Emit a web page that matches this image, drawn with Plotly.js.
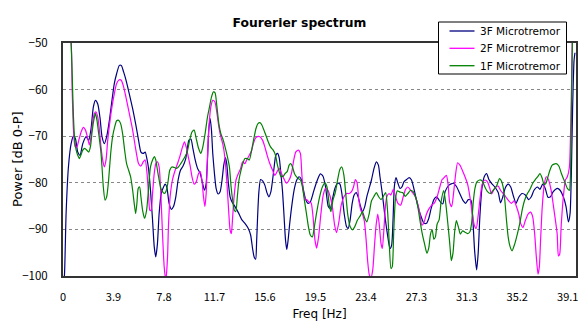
<!DOCTYPE html>
<html>
<head>
<meta charset="utf-8">
<script src="https://cdn.plot.ly/plotly-3.0.1.min.js"></script>
<style>html,body{margin:0;padding:0;background:#fff;}#chart{width:578px;height:322px;}</style>
</head>
<body>
<div id="chart"></div>
<script>
// ---- data (frequency in Hz, power in dB 0-P) ----
const seriesNames = ["3F Microtremor", "2F Microtremor", "1F Microtremor"];

const f3F = [0,0.12,0.24,0.42,0.63,0.81,0.96,1.14,1.32,1.53,1.79,1.99,2.17,2.35,2.51,2.69,2.87,3.02,3.2,3.38,3.59,3.79,3.97,4.15,4.36,4.51,4.69,4.87,5.13,5.39,5.64,5.85,6.03,6.21,6.36,6.49,6.62,6.77,6.93,7.06,7.18,7.31,7.44,7.6,7.78,7.9,8.03,8.21,8.39,8.55,8.73,8.91,9.09,9.29,9.5,9.74,9.9,10.05,10.23,10.41,10.62,10.8,10.95,11.08,11.18,11.28,11.39,11.49,11.59,11.72,11.85,12.0,12.16,12.31,12.44,12.57,12.67,12.8,12.93,13.08,13.31,13.57,13.83,14.08,14.34,14.52,14.67,14.8,14.91,14.98,15.06,15.16,15.29,15.45,15.62,15.78,15.93,16.09,16.22,16.34,16.47,16.6,16.73,16.86,16.99,17.11,17.22,17.32,17.42,17.55,17.73,17.91,18.09,18.27,18.45,18.6,18.78,18.96,19.14,19.35,19.5,19.7,19.91,20.12,20.32,20.53,20.68,20.86,21.04,21.25,21.43,21.58,21.76,21.94,22.07,22.22,22.38,22.53,22.69,22.84,23.0,23.17,23.35,23.51,23.69,23.87,24.07,24.25,24.41,24.53,24.71,24.89,25.1,25.3,25.43,25.54,25.64,25.77,25.92,26.08,26.23,26.38,26.59,26.79,26.97,27.15,27.33,27.51,27.72,27.92,28.13,28.31,28.49,28.7,28.9,29.08,29.26,29.4,29.57,29.87,30.21,30.47,30.72,30.98,31.16,31.36,31.57,31.72,31.85,32.01,32.13,32.26,32.42,32.6,32.78,32.96,33.16,33.42,33.68,33.86,34.04,34.24,34.45,34.65,34.86,35.06,35.27,35.53,35.78,36.04,36.24,36.45,36.71,36.91,37.12,37.32,37.53,37.73,37.94,38.26,38.47,38.72,38.93,39.11,39.24,39.34,39.44,39.55,39.62];
const p3F = [-104,-99.4,-86.6,-76.6,-71.6,-70.0,-70.5,-73.4,-74.1,-71.6,-70.1,-70.9,-68.4,-63.7,-62.3,-63.1,-66.2,-70.1,-71.6,-70.1,-66.6,-62.3,-58.7,-56.6,-54.8,-54.8,-56.2,-57.9,-60.9,-64.1,-67.6,-70.9,-73.4,-73.7,-73.4,-74.8,-76.9,-81.6,-88.0,-93.7,-95.9,-93.0,-86.6,-82.3,-80.9,-80.3,-80.9,-84.4,-85.7,-85.1,-83.0,-79.4,-77.3,-76.4,-74.8,-70.9,-70.6,-72.6,-75.1,-76.9,-78.0,-80.1,-81.6,-80.1,-75.1,-68.7,-66.2,-68.7,-73.7,-78.0,-81.2,-82.4,-81.9,-79.4,-76.2,-74.6,-75.9,-80.1,-83.0,-84.1,-85.1,-86.4,-87.9,-88.7,-89.8,-91.2,-94.1,-96.0,-96.4,-92.9,-87.3,-81.9,-79.3,-79.6,-80.5,-82.1,-83.0,-81.9,-79.4,-76.6,-74.1,-73.7,-74.6,-78.0,-81.9,-87.3,-92.3,-94.3,-92.3,-88.6,-84.4,-81.2,-79.4,-78.7,-79.3,-81.4,-83.6,-84.4,-84.1,-82.3,-80.9,-79.3,-78.1,-78.6,-80.9,-85.1,-85.5,-83.4,-81.2,-80.1,-80.3,-82.3,-86.6,-89.4,-89.8,-88.0,-84.4,-82.6,-82.1,-83.0,-84.8,-86.2,-85.1,-83.0,-81.2,-79.4,-76.9,-75.5,-76.2,-78.7,-82.3,-86.6,-90.9,-94.1,-93.4,-88.0,-80.9,-78.9,-80.1,-81.2,-80.9,-79.8,-79.3,-78.9,-79.4,-81.2,-83.4,-85.5,-87.3,-88.6,-88.7,-87.6,-85.5,-83.6,-83.0,-83.6,-84.3,-84.5,-81.9,-80.5,-80.1,-80.9,-82.4,-83.9,-84.4,-83.6,-83.7,-88.0,-94.4,-98.7,-95.1,-87.3,-81.2,-78.7,-78.0,-79.3,-80.1,-80.9,-82.1,-84.3,-83.0,-81.0,-80.3,-80.9,-82.9,-84.4,-83.1,-82.3,-82.6,-83.6,-83.0,-81.6,-80.9,-81.4,-80.3,-81.2,-83.1,-83.0,-81.9,-81.2,-81.6,-83.0,-85.1,-88.4,-86.6,-78.0,-63.7,-53.7,-52.1];

const f2F = [0,0.62,0.71,0.81,0.94,1.07,1.22,1.4,1.58,1.74,1.92,2.04,2.17,2.3,2.43,2.56,2.69,2.82,2.94,3.07,3.2,3.33,3.46,3.64,3.79,3.97,4.15,4.36,4.51,4.69,4.87,5.13,5.39,5.64,5.85,6.03,6.21,6.36,6.49,6.62,6.72,6.82,6.93,7.06,7.18,7.31,7.44,7.57,7.7,7.83,7.96,8.09,8.16,8.29,8.47,8.68,8.86,9.04,9.25,9.4,9.55,9.7,9.85,9.98,10.15,10.31,10.49,10.62,10.75,10.87,10.98,11.08,11.18,11.31,11.44,11.59,11.75,11.9,12.06,12.21,12.36,12.52,12.67,12.8,12.93,13.03,13.13,13.24,13.39,13.57,13.75,13.9,14.08,14.21,14.42,14.6,14.73,14.88,15.03,15.24,15.45,15.62,15.8,16.01,16.22,16.4,16.57,16.73,16.91,17.09,17.29,17.5,17.68,17.86,18.01,18.22,18.37,18.48,18.58,18.73,18.89,19.04,19.2,19.35,19.5,19.63,19.78,19.96,20.14,20.32,20.5,20.68,20.86,21.02,21.17,21.35,21.53,21.74,21.94,22.15,22.33,22.48,22.63,22.76,22.89,23.05,23.2,23.33,23.46,23.58,23.71,23.84,23.97,24.1,24.23,24.36,24.48,24.61,24.71,24.84,24.95,25.07,25.23,25.38,25.56,25.74,25.92,26.13,26.33,26.51,26.69,26.9,27.1,27.28,27.46,27.62,27.77,27.92,28.13,28.34,28.54,28.75,28.95,29.16,29.34,29.49,29.67,29.8,29.93,30.08,30.23,30.39,30.54,30.72,30.9,31.11,31.31,31.49,31.67,31.83,31.98,32.13,32.29,32.44,32.65,32.85,33.03,33.16,33.32,33.5,33.68,33.88,34.09,34.29,34.5,34.7,34.91,35.09,35.27,35.42,35.6,35.78,35.99,36.19,36.35,36.5,36.63,36.76,36.86,36.96,37.09,37.25,37.4,37.58,37.78,37.96,38.24,38.34,38.44,38.55,38.72,38.88,39.03,39.19,39.29,39.37,39.44];
const p2F = [-40,-50,-60.1,-68.7,-72.3,-72.3,-70.9,-69.1,-68.1,-68.7,-70.5,-71.9,-70.1,-66.9,-65.1,-64.8,-65.9,-68.7,-72.3,-75.1,-76.6,-75.1,-70.9,-66.6,-63.7,-60.9,-58.7,-57.9,-58.0,-59.4,-61.6,-65.1,-68.7,-73.0,-75.9,-76.4,-75.5,-75.1,-77.6,-82.3,-85.9,-85.9,-82.3,-78.0,-75.9,-75.5,-76.6,-82.3,-90.9,-98.0,-101,-95.9,-89.4,-83.0,-79.4,-77.3,-75.9,-74.4,-72.3,-71.2,-72.5,-74.5,-76.5,-78.7,-80.3,-79.8,-78.0,-77.6,-79.4,-83.0,-85.1,-82.3,-74.4,-67.3,-63.7,-62.3,-62.6,-64.8,-68.0,-70.1,-71.6,-74.4,-79.4,-85.1,-90.1,-90.9,-87.3,-83.0,-79.4,-78.0,-76.9,-75.5,-75.9,-75.1,-74.1,-73.0,-71.6,-70.5,-70.1,-70.1,-70.9,-72.3,-74.1,-75.9,-77.3,-78.4,-77.6,-76.9,-78.0,-79.1,-80.1,-79.4,-78.0,-75.1,-73.4,-73.0,-73.7,-78.0,-81.6,-83.4,-83.7,-84.1,-84.3,-87.3,-92.3,-94.0,-91.6,-86.6,-82.6,-81.2,-81.6,-83.0,-85.5,-89.1,-90.7,-88.4,-84.8,-83.0,-82.3,-82.3,-81.9,-80.9,-79.3,-80.0,-83.6,-85.9,-86.9,-88.4,-92.3,-96.9,-99.8,-100.3,-98.7,-93.7,-89.1,-86.7,-89.1,-93.0,-94.1,-89.8,-85.1,-82.9,-82.3,-82.6,-81.4,-83.0,-84.4,-84.8,-83.0,-81.4,-80.9,-81.6,-82.3,-83.1,-84.6,-86.6,-89.1,-88.6,-86.7,-85.5,-84.8,-84.3,-83.0,-80.9,-79.3,-78.9,-78.4,-80.3,-84.3,-85.1,-82.1,-78.0,-75.7,-76.2,-77.3,-78.7,-80.3,-83.0,-86.6,-89.1,-89.8,-87.0,-83.0,-80.3,-79.4,-79.8,-81.2,-82.4,-81.6,-80.9,-80.7,-81.7,-82.4,-83.1,-83.9,-84.4,-83.9,-85.1,-86.7,-88.7,-89.6,-88.1,-86.7,-86.3,-87.3,-90.9,-95.9,-99.6,-98.1,-92.3,-85.1,-80.3,-78.7,-79.4,-81.7,-85.1,-90.9,-95.7,-95.3,-89.4,-83.0,-79.4,-78.7,-76.6,-67.9,-56.6,-44];

const f1F = [0,0.6,0.64,0.71,0.81,0.91,1.02,1.14,1.27,1.38,1.53,1.68,1.84,1.99,2.12,2.25,2.38,2.51,2.63,2.76,2.92,3.02,3.12,3.25,3.38,3.53,3.69,3.84,4.0,4.15,4.31,4.46,4.61,4.77,4.92,5.08,5.23,5.39,5.51,5.62,5.72,5.82,5.93,6.03,6.16,6.31,6.47,6.57,6.67,6.77,6.93,7.08,7.18,7.31,7.44,7.57,7.7,7.83,7.96,8.11,8.26,8.42,8.6,8.78,8.93,9.11,9.36,9.6,9.8,9.98,10.15,10.31,10.49,10.67,10.82,11.0,11.18,11.34,11.49,11.64,11.77,11.9,12.06,12.21,12.36,12.54,12.72,12.88,13.01,13.13,13.26,13.37,13.49,13.62,13.78,13.96,14.08,14.26,14.42,14.55,14.67,14.8,14.93,15.09,15.24,15.39,15.55,15.7,15.88,16.06,16.27,16.45,16.57,16.73,16.88,17.04,17.19,17.35,17.5,17.63,17.76,17.91,18.06,18.22,18.37,18.53,18.68,18.84,18.99,19.14,19.3,19.45,19.62,19.86,20.07,20.27,20.43,20.61,20.73,20.89,21.07,21.25,21.43,21.58,21.74,21.89,22.04,22.22,22.4,22.58,22.79,23.0,23.17,23.35,23.51,23.69,23.87,24.07,24.25,24.43,24.61,24.79,24.97,25.13,25.25,25.38,25.48,25.59,25.72,25.87,26.08,26.28,26.49,26.69,26.9,27.1,27.28,27.46,27.62,27.8,27.98,28.16,28.31,28.44,28.57,28.7,28.82,28.95,29.11,29.26,29.46,29.62,29.77,29.93,30.05,30.18,30.31,30.44,30.59,30.75,30.93,31.11,31.31,31.49,31.62,31.75,31.88,32.03,32.24,32.44,32.65,32.85,33.06,33.29,33.55,33.78,33.93,34.06,34.19,34.32,34.45,34.6,34.75,34.96,35.17,35.35,35.53,35.73,35.94,36.14,36.35,36.55,36.76,36.91,37.07,37.22,37.37,37.53,37.68,37.86,38.16,38.37,38.57,38.83,39.03,39.19,39.26,39.34,39.39,39.45];
const p1F = [-38,-47,-50.5,-56.6,-65.9,-70.9,-73.0,-74.1,-74.8,-74.1,-73.0,-72.6,-73.0,-73.4,-72.3,-69.1,-66.6,-65.1,-66.6,-69.4,-73.0,-76.6,-80.9,-83.7,-83.0,-79.4,-73.7,-70.1,-68.0,-66.7,-66.6,-67.3,-69.4,-73.0,-75.9,-77.3,-78.7,-81.6,-84.4,-86.6,-84.4,-81.2,-80.9,-83.0,-85.9,-87.6,-85.9,-83.0,-79.4,-76.6,-75.1,-74.4,-75.1,-77.3,-79.4,-81.2,-81.9,-82.3,-81.9,-80.1,-77.3,-76.6,-76.7,-76.9,-76.6,-75.9,-74.8,-73.5,-70.9,-69.1,-68.7,-70.5,-72.6,-73.7,-72.3,-69.4,-65.9,-63.7,-61.6,-60.5,-60.7,-63.4,-67.3,-69.4,-70.5,-72.3,-74.4,-76.6,-80.9,-83.7,-85.9,-86.2,-83.0,-79.4,-77.3,-75.5,-74.8,-74.8,-75.1,-73.7,-71.9,-70.1,-68.4,-67.3,-67.1,-67.6,-68.7,-69.8,-71.2,-72.3,-73.0,-74.1,-75.9,-77.6,-78.7,-78.6,-78.0,-77.6,-76.2,-75.9,-76.6,-78.0,-78.7,-79.1,-79.4,-80.9,-83.7,-86.6,-89.4,-91.2,-91.6,-89.5,-86.5,-83.0,-80.9,-80.0,-80.9,-84.8,-86.2,-83.7,-82.1,-79.4,-77.1,-76.6,-78.4,-82.6,-86.9,-89.4,-90.1,-89.4,-88.0,-87.1,-86.2,-87.6,-88.4,-86.7,-83.9,-82.9,-82.1,-83.0,-83.6,-82.9,-82.1,-86.6,-93.0,-98.4,-98.0,-90.9,-83.7,-81.7,-82.0,-82.1,-82.9,-82.3,-81.6,-81.9,-83.0,-85.1,-88.0,-90.9,-93.1,-95.1,-93.9,-91.0,-90.1,-92.1,-91.6,-88.9,-87.9,-84.1,-81.7,-84.4,-88.4,-93.0,-96.7,-95.1,-90.5,-88.1,-89.4,-91.0,-90.3,-90.6,-90.9,-90.5,-88.7,-84.1,-81.2,-79.8,-79.4,-79.6,-80.9,-81.9,-82.3,-81.6,-80.7,-79.1,-79.6,-80.9,-83.7,-88.0,-91.6,-93.7,-94.6,-93.1,-90.9,-88.7,-85.9,-83.7,-82.3,-81.4,-80.1,-79.3,-78.6,-78.0,-78.9,-80.3,-80.1,-78.7,-77.3,-76.2,-75.9,-76.4,-78.0,-79.8,-81.2,-81.6,-79.4,-67.3,-55.1,-44];

const xTickVals = [0, 3.90625, 7.8125, 11.71875, 15.625, 19.53125, 23.4375, 27.34375, 31.25, 35.15625, 39.0625];
const xTickText = ["0", "3.9", "7.8", "11.7", "15.6", "19.5", "23.4", "27.3", "31.3", "35.2", "39.1"];
const yTickVals = [-100, -90, -80, -70, -60, -50];

const colors = ["#000080", "#FF00FF", "#008000"];
const TICKFONT = "'Noto Sans CJK JP', 'Noto Sans', sans-serif";
const TEXTFONT = "'DejaVu Sans', sans-serif";

const xs = [f3F, f2F, f1F];
const ys = [p3F, p2F, p1F];
const traces = seriesNames.map((name, i) => ({
  type: "scatter", mode: "lines", name: name,
  x: xs[i], y: ys[i], showlegend: false,
  line: {color: colors[i], width: 1.2, shape: "spline", smoothing: 0.6}
}));

// legend box and y title placed in paper coordinates (plot area: x 63.5..576.5 px, y 43..276 px)
const W = 513, H = 233, L = 63.5, B = 276;
const px = v => (v - L) / W;
const py = v => (B - v) / H;
const legendRows = [31, 48.3, 65.7];
const shapes = [{type: "rect", xref: "paper", yref: "paper", x0: px(439), x1: px(567), y0: py(74), y1: py(22),
                 fillcolor: "#fff", line: {color: "#000", width: 1}, layer: "above"}];
const annotations = [{xref: "paper", yref: "paper", x: px(18), y: 0.5, xanchor: "center", yanchor: "middle",
                      textangle: -90, text: "Power [dB 0-P]", showarrow: false,
                      font: {family: TEXTFONT, size: 13, color: "#000"}}];
seriesNames.forEach((name, i) => {
  shapes.push({type: "line", xref: "paper", yref: "paper", x0: px(450), x1: px(475),
               y0: py(legendRows[i]), y1: py(legendRows[i]), line: {color: colors[i], width: 1.3}, layer: "above"});
  annotations.push({xref: "paper", yref: "paper", x: px(478), y: py(legendRows[i]), xanchor: "left", yanchor: "middle",
                    text: name, showarrow: false, font: {family: TEXTFONT, size: 10.5, color: "#000"}});
});

const layout = {
  width: 578, height: 322,
  margin: {l: 63, r: 2, t: 43, b: 46, pad: 0},
  paper_bgcolor: "#fff", plot_bgcolor: "#fff",
  font: {family: TICKFONT, size: 11, color: "#000"},
  title: {text: "<b>Fourerier spectrum</b>", font: {family: TEXTFONT, size: 12.3, color: "#000"},
          x: 0.461, xref: "paper", xanchor: "center", y: 0.93, yref: "container", yanchor: "middle"},
  xaxis: {
    range: [0, 39.7], tickvals: xTickVals, ticktext: xTickText,
    showgrid: false, zeroline: false, showline: true, mirror: true,
    linecolor: "#333", linewidth: 2, ticks: "", ticklabelstandoff: 10,
    ticklabeloverflow: "allow",
    tickfont: {family: TICKFONT, size: 11},
    title: {text: "Freq [Hz]", font: {family: TEXTFONT, size: 12}, standoff: 6}
  },
  yaxis: {
    range: [-100, -50], tickvals: yTickVals,
    showgrid: true, gridcolor: "#888", griddash: "dot", gridwidth: 1,
    zeroline: false, showline: true, mirror: true,
    linecolor: "#333", linewidth: 2, ticks: "", ticklabelstandoff: 11,
    tickfont: {family: TICKFONT, size: 11.5}
  },
  showlegend: false,
  shapes: shapes,
  annotations: annotations
};

Plotly.newPlot("chart", traces, layout, {displayModeBar: false, staticPlot: true});
</script>
</body>
</html>
